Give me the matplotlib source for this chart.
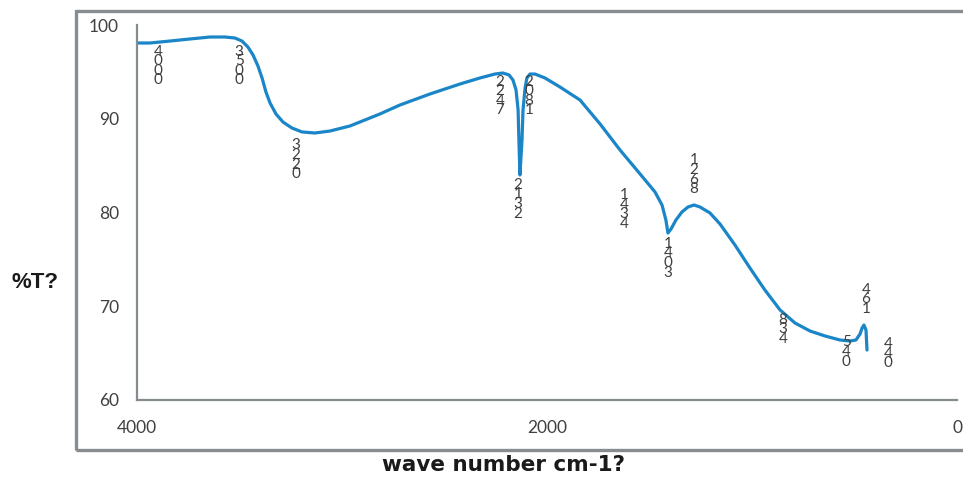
import matplotlib.pyplot as plt
from matplotlib.patches import Rectangle

# IR spectrum: wave number (cm-1) vs transmittance (%T)
wave_number = [4000, 3937, 3839, 3741, 3644, 3571, 3522, 3488, 3459, 3434,
               3410, 3390, 3371, 3351, 3322, 3288, 3244, 3195, 3132, 3059,
               2961, 2815, 2717, 2571, 2424, 2327, 2254, 2215, 2185, 2166,
               2151, 2141, 2137, 2132, 2122, 2117, 2107, 2098, 2083, 2059,
               2010, 1937, 1839, 1741, 1644, 1546, 1473, 1439, 1420, 1410,
               1395, 1371, 1342, 1312, 1283, 1254, 1205, 1156, 1083, 1010,
               937, 863, 790, 717, 644, 571, 522, 493, 473, 463,
               454, 444, 439]
transmittance = [98.08, 98.08, 98.29, 98.51, 98.72, 98.72, 98.61, 98.29, 97.65, 96.80,
                 95.63, 94.35, 92.85, 91.68, 90.51, 89.65, 89.01, 88.59, 88.48, 88.69,
                 89.23, 90.51, 91.47, 92.64, 93.71, 94.35, 94.77, 94.88, 94.67, 94.13,
                 93.07, 90.93, 87.73, 84.00, 87.73, 90.93, 93.28, 94.35, 94.77, 94.77,
                 94.35, 93.39, 92.00, 89.44, 86.67, 84.11, 82.19, 80.80, 79.20, 77.81,
                 78.24, 79.20, 80.05, 80.59, 80.80, 80.59, 79.95, 78.77, 76.53, 74.08,
                 71.73, 69.60, 68.21, 67.36, 66.83, 66.40, 66.29, 66.40, 67.04, 67.68,
                 68.00, 67.47, 65.33]

# peak labels and where their text sits
peak_labels = ["4000", "3500", "3220", "2247", "2081", "2132", "1434",
               "1403", "1268", "834", "540", "461", "440"]
label_x = [3898, 3502, 3224, 2229, 2088, 2141, 1624, 1410, 1283, 849, 541, 444, 337]
label_y = [97.9, 97.9, 87.9, 94.7, 94.7, 83.7, 82.6, 77.4, 86.3, 69.3, 66.9, 72.5, 66.7]

W, H = 963, 478
fig = plt.figure(figsize=(W / 100, H / 100), dpi=100)
ax = fig.add_axes([137 / W, 1 - 400 / H, (957 - 137) / W, (400 - 25) / H])

# chart frame
fig.patches.append(Rectangle((76 / W, 1 - 450 / H), (W + 10 - 76) / W, (450 - 11) / H,
                             transform=fig.transFigure, fill=False,
                             edgecolor="#878c91", linewidth=2.4, clip_on=False))

ax.plot(wave_number, transmittance, color="#1a86c8", linewidth=2.3,
        solid_joinstyle="round", solid_capstyle="round")

for txt, lx, ly in zip(peak_labels, label_x, label_y):
    ax.text(lx, ly, "\n".join(txt), ha="center", va="top", fontsize=11,
            family="Lato", color="#404040", linespacing=0.6)

ax.set_xlim(4000, 0)
ax.set_ylim(60, 100)
ax.set_xticks([4000, 2000, 0])
ax.set_yticks([60, 70, 80, 90, 100])
for sp in ["top", "right"]:
    ax.spines[sp].set_visible(False)
for sp in ["left", "bottom"]:
    ax.spines[sp].set_color("#868b90")
    ax.spines[sp].set_linewidth(1.6)
ax.tick_params(length=0, labelsize=12.5, labelcolor="#404040")
ax.tick_params(axis="y", pad=13)
ax.tick_params(axis="x", pad=14.5)
for lab in ax.get_xticklabels() + ax.get_yticklabels():
    lab.set_family("Lato")

fig.text(35 / W, 1 - 283 / H, "%T?", ha="center", va="center",
         fontsize=16, fontweight="bold", family="Liberation Sans", color="#1a1a1a")
fig.text(504 / W, 1 - 465 / H, "wave number cm-1?", ha="center", va="center",
         fontsize=15.5, fontweight="bold", family="DejaVu Sans", color="#1a1a1a")

fig.savefig("out.png", dpi=100)
